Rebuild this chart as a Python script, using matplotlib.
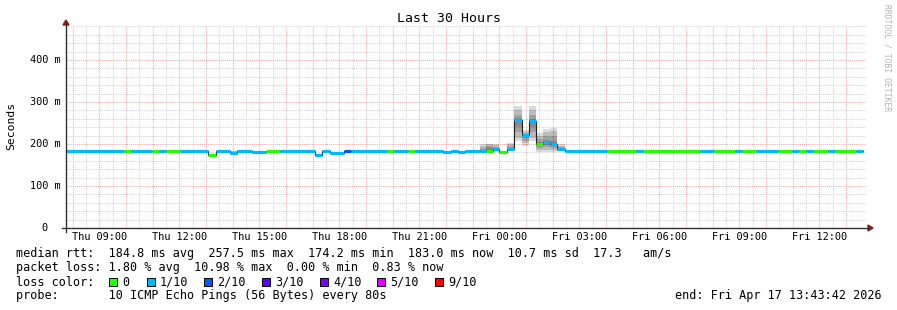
import matplotlib
matplotlib.use('Agg')
import matplotlib.pyplot as plt
from matplotlib.patches import Rectangle, Polygon
from matplotlib.lines import Line2D

# x = hours since graph start (Thu 07:43:42), graph spans 30 h
seg_start = [0.00, 2.19, 2.45, 3.24, 3.50, 3.77, 4.29, 5.34, 5.64, 6.17,
             6.43, 6.99, 7.51, 8.04, 9.35, 9.61, 9.91, 10.44, 10.70, 12.05,
             12.31, 12.84, 13.10, 14.15, 14.45, 14.71, 14.98, 15.54, 15.77, 16.03,
             16.25, 16.55, 16.82, 17.12, 17.38, 17.64, 17.90, 18.17, 18.43, 18.73,
             20.30, 21.39, 21.65, 23.79, 24.31, 25.10, 25.36, 25.89, 26.71, 27.24,
             27.50, 27.76, 28.03, 28.59, 28.85, 29.64]
seg_median = [183, 183, 183, 183, 183, 183, 183, 175, 183, 178,
              183, 181, 183, 183, 175, 183, 178, 183, 183, 183,
              183, 183, 183, 181, 183, 181, 183, 183, 184, 187,
              181, 188, 257, 221, 254, 200, 204, 200, 187, 183,
              183, 183, 183, 183, 183, 183, 183, 183, 183, 183,
              183, 183, 183, 183, 183, 183]
seg_loss = [1, 0, 1, 0, 1, 0, 1, 0, 1, 1,
            1, 1, 0, 1, 1, 1, 1, 2, 1, 0,
            1, 0, 1, 1, 1, 1, 1, 1, 0, 1,
            0, 1, 1, 1, 1, 0, 1, 1, 1, 1,
            0, 1, 0, 1, 0, 1, 0, 1, 0, 1,
            0, 1, 0, 1, 0, 1]
t_end = 29.90

# smoke (individual ping rtts, ms) where it is visible
smoke_start = [6.17, 15.54, 15.77, 16.03, 16.55, 16.82, 17.12, 17.38, 17.64, 17.90, 18.17, 18.43]
smoke_end = [6.43, 15.77, 16.03, 16.25, 16.82, 17.12, 17.38, 17.64, 17.90, 18.17, 18.43, 18.73]
smoke_pings = [
    [177, 178, 178, 179, 180, 181, 182, 183, 184],
    [181, 182, 183, 183, 184, 186, 190, 195, 200],
    [181, 182, 183, 184, 185, 188, 192, 196, 200, 201],
    [182, 183, 185, 186, 187, 189, 193, 197, 200],
    [184, 185, 187, 188, 189, 191, 195, 200, 203],
    [206, 215, 228, 240, 252, 257, 262, 270, 280, 290],
    [196, 202, 208, 214, 218, 221, 224, 228, 233],
    [206, 215, 228, 240, 250, 254, 260, 270, 280, 290],
    [181, 185, 190, 195, 198, 200, 205, 212, 220, 226],
    [181, 186, 192, 198, 202, 204, 210, 218, 228, 235],
    [181, 185, 190, 195, 198, 200, 208, 220, 230, 237],
    [183, 184, 185, 186, 187, 189, 192, 196, 200],
]

loss_labels = ['0', '1/10', '2/10', '3/10', '4/10', '5/10', '9/10']
loss_colors = ['#26ff00', '#00b8ff', '#0059ff', '#5e00ff', '#7e00ff', '#dd00ff', '#ff0000']
loss_index = {0: 0, 1: 1, 2: 2, 3: 3, 4: 4, 5: 5, 9: 6}

x_labels = ['Thu 09:00', 'Thu 12:00', 'Thu 15:00', 'Thu 18:00', 'Thu 21:00',
            'Fri 00:00', 'Fri 03:00', 'Fri 06:00', 'Fri 09:00', 'Fri 12:00']
y_ticks = [0, 100, 200, 300, 400]

W, H = 897, 310
mono = 'DejaVu Sans Mono'
first_hour = 0.2717  # Thu 08:00 in hours since start


def fx(x):
    return x / W


def fy(y):
    return 1 - y / H


fig = plt.figure(figsize=(W / 100, H / 100), dpi=100)
fig.patch.set_facecolor('white')
ax = fig.add_axes([fx(65.5), fy(228), 800 / W, 202 / H])
ax.set_xlim(0, 30)
ax.set_ylim(0, 481)
ax.axis('off')

# grid
dot = (0, (1, 1))
for k in range(60):
    t = first_hour - 0.5 + 0.5 * k
    if 0 < t < 30 and k % 2 == 0:
        ax.axvline(t, color='#d2d2d2', lw=0.75, ls=dot, zorder=0)
for v in range(20, 481, 20):
    if v % 100:
        ax.axhline(v, color='#d2d2d2', lw=0.75, ls=dot, zorder=0)
for k in range(31):
    t = first_hour + k
    if t < 30:
        ax.axvline(t, color='#f3aaaa', lw=0.75, ls=dot, zorder=0.5)
for v in range(100, 481, 100):
    ax.axhline(v, color='#f3aaaa', lw=0.75, ls=dot, zorder=0.5)

# smoke
for s, e, pings in zip(smoke_start, smoke_end, smoke_pings):
    p = sorted(pings)
    n = len(p)
    for i in range(n // 2):
        ax.fill_between([s, e], p[i], p[n - 1 - i], color='black', alpha=0.14,
                        lw=0, zorder=1)

# median: thin black step line, then loss-coloured pieces
seg_end = seg_start[1:] + [t_end]
xs, ys = [], []
for s, e, m in zip(seg_start, seg_end, seg_median):
    xs += [s, e]
    ys += [m, m]
ax.plot(xs, ys, color='#202020', lw=0.8, zorder=2)
for s, e, m, l in zip(seg_start, seg_end, seg_median, seg_loss):
    ax.hlines(m, s, e, colors=loss_colors[loss_index[l]], lw=2.3, zorder=3)

# axes lines + arrows
axis_col = '#303030'
fig.add_artist(Line2D([fx(66), fx(66)], [fy(232), fy(24)], color=axis_col, lw=1.0))
fig.add_artist(Line2D([fx(62), fx(869)], [fy(228), fy(228)], color=axis_col, lw=1.0))
fig.add_artist(Polygon([(fx(63), fy(25)), (fx(69), fy(25)), (fx(66), fy(20))],
                       closed=True, color='#8b1a1a'))
fig.add_artist(Polygon([(fx(868), fy(225)), (fx(868), fy(231)), (fx(873), fy(228))],
                       closed=True, color='#8b1a1a'))

# tick labels
for i, lab in enumerate(x_labels):
    t = first_hour + 1 + 3 * i
    px = 65.5 + t * 800 / 30
    fig.text(fx(px), fy(237.5), lab, ha='center', va='center', family=mono, fontsize=7.4)
for v in y_ticks:
    if v == 0:
        fig.text(fx(47.5), fy(228), '0', ha='right', va='center', family=mono, fontsize=7.4)
    else:
        fig.text(fx(60.5), fy(228 - v * 0.42), '%d m' % v, ha='right', va='center',
                 family=mono, fontsize=7.4)

fig.text(0.5, fy(19), 'Last 30 Hours', ha='center', va='center', family=mono, fontsize=9.5)
fig.text(fx(11), fy(126), 'Seconds', ha='center', va='center', rotation=90,
         family=mono, fontsize=8.2)
fig.text(fx(887), fy(4), 'RRDTOOL / TOBI OETIKER', ha='center', va='top', rotation=270,
         family=mono, fontsize=5.8, color='#b4b4b4')

# legend
fs = 8.5
fig.text(fx(16), fy(254), 'median rtt:  184.8 ms avg  257.5 ms max  174.2 ms min  '
         '183.0 ms now  10.7 ms sd  17.3   am/s', ha='left', va='center',
         family=mono, fontsize=fs)
fig.text(fx(16), fy(268), 'packet loss: 1.80 % avg  10.98 % max  0.00 % min  0.83 % now',
         ha='left', va='center', family=mono, fontsize=fs)
fig.text(fx(16), fy(282), 'loss color:', ha='left', va='center', family=mono, fontsize=fs)
sq_x = [109, 146.5, 204, 262, 319.5, 377, 435]
for x, lab, c in zip(sq_x, loss_labels, loss_colors):
    fig.add_artist(Rectangle((fx(x), fy(286)), 8 / W, 8 / H, facecolor=c,
                             edgecolor='black', lw=0.7))
    fig.text(fx(x + 13.5), fy(282), lab, ha='left', va='center', family=mono, fontsize=fs)
fig.text(fx(16), fy(296), 'probe:       10 ICMP Echo Pings (56 Bytes) every 80s',
         ha='left', va='center', family=mono, fontsize=fs)
fig.text(fx(882), fy(296), 'end: Fri Apr 17 13:43:42 2026', ha='right', va='center',
         family=mono, fontsize=fs)

fig.savefig('out.png', dpi=100)
